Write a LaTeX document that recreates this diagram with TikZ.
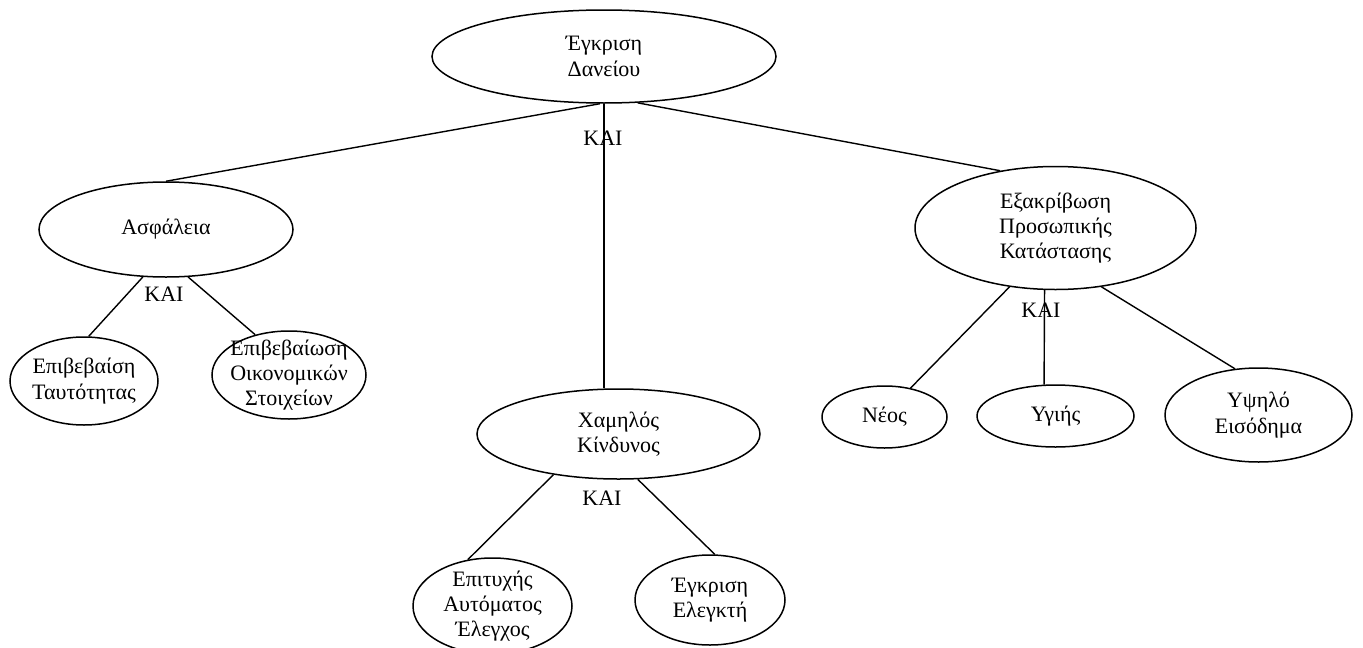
\documentclass[tikz,border=0pt]{standalone}
\usepackage{fontspec}
\setmainfont{Liberation Serif}
\usetikzlibrary{shapes.geometric}
\begin{document}
\begin{tikzpicture}[x=1pt,y=-1pt,
  goal/.style={ellipse,draw,line width=1.5pt,inner sep=0pt},
  goaltext/.style={align=center,inner sep=0pt,font=\fontsize{22}{25.3}\selectfont},
  andlbl/.style={inner sep=0pt,font=\fontsize{22}{25.3}\selectfont},
  link/.style={line width=1.4pt}]
\useasboundingbox (0,0) rectangle (1363,648);

% goal ellipses (centre, size)
\node[goal,minimum width=344pt,minimum height=93pt] (root) at (604,56.5) {};
\node[goal,minimum width=254pt,minimum height=95pt] (sec) at (166,229.5) {};
\node[goal,minimum width=281pt,minimum height=123pt] (pers) at (1055.5,228) {};
\node[goal,minimum width=148pt,minimum height=88pt] (idv) at (84,381) {};
\node[goal,minimum width=154pt,minimum height=88pt] (fin) at (289,375) {};
\node[goal,minimum width=283pt,minimum height=90pt] (risk) at (618.5,434) {};
\node[goal,minimum width=125pt,minimum height=62pt] (young) at (884.5,417) {};
\node[goal,minimum width=157pt,minimum height=62pt] (healthy) at (1055.5,416) {};
\node[goal,minimum width=187pt,minimum height=94pt] (income) at (1258.5,415) {};
\node[goal,minimum width=159pt,minimum height=96pt] (auto) at (492.5,606) {};
\node[goal,minimum width=150pt,minimum height=90pt] (audit) at (710,600) {};

% goal labels
\node[goaltext] (troot) at (root) {Έγκριση\\Δανείου};
\node[goaltext] (tsec) at (sec) {Ασφάλεια};
\node[goaltext] (tpers) at (pers) {Εξακρίβωση\\Προσωπικής\\Κατάστασης};
\node[goaltext] (tidv) at (idv) {Επιβεβαίση\\Ταυτότητας};
\node[goaltext] (tfin) at (fin) {Επιβεβαίωση\\Οικονομικών\\Στοιχείων};
\node[goaltext] (trisk) at (risk) {Χαμηλός\\Κίνδυνος};
\node[goaltext] (tyoung) at (young) {Νέος};
\node[goaltext] (thealthy) at (healthy) {Υγιής};
\node[goaltext] (tincome) at (income) {Υψηλό\\Εισόδημα};
\node[goaltext] (tauto) at (auto) {Επιτυχής\\Αυτόματος\\Έλεγχος};
\node[goaltext] (taudit) at (audit) {Έγκριση\\Ελεγκτή};

% AND decompositions
\draw[link] (root.-95) -- (sec.north);
\draw[link] (root.south) -- (root.south |- risk.north);
\draw[link] (root.-54.6) -- (pers.134.2);
\node[andlbl] (and1) at (603,138) {ΚΑΙ};

\draw[link] (sec.-116.8) -- (idv.84.8);
\draw[link] (sec.-65.7) -- (fin.130.7);
\node[andlbl] (and2) at (164,294) {ΚΑΙ};

\draw[link] (pers.-128.4) -- (young.48);
\draw[link] (pers.-100.6) -- (healthy.110.6);
\draw[link] (pers.-52.6) -- (income.117.3);
\node[andlbl] (and3) at (1041,310) {ΚΑΙ};

\draw[link] (risk.-148.7) -- (auto.118.2);
\draw[link] (risk.-67.5) -- (audit.84);
\node[andlbl] (and4) at (602,498) {ΚΑΙ};
\end{tikzpicture}
\end{document}
